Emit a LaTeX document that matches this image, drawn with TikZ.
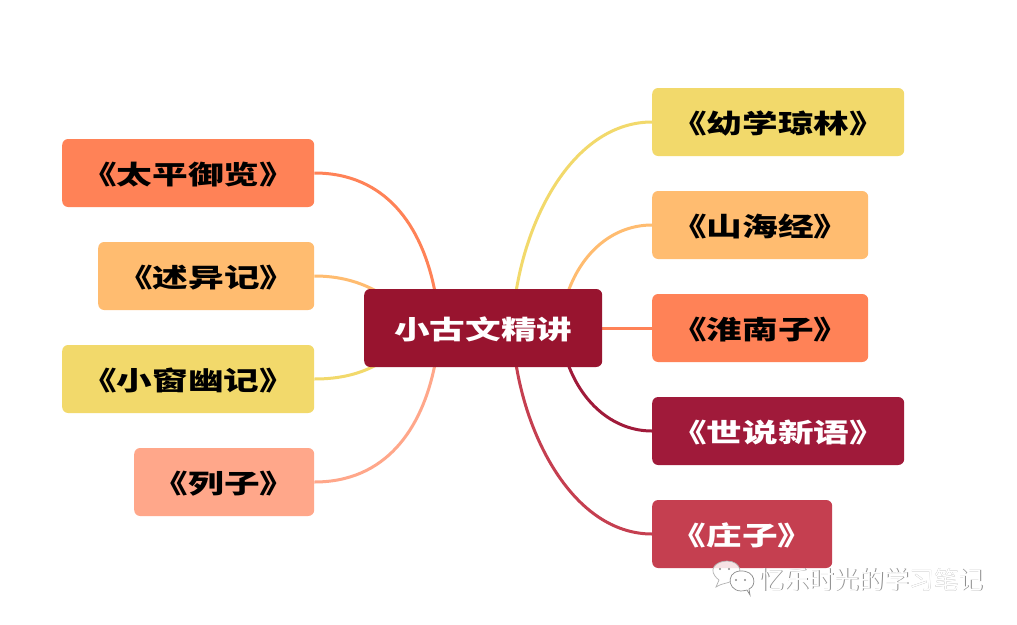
\documentclass[tikz,border=0pt]{standalone}
\usepackage{fontspec}
\usepackage{graphicx}
\usetikzlibrary{backgrounds,calc}
\newfontfamily\cjk{Noto Sans CJK SC}
\definecolor{cOrange}{HTML}{FF8257}
\definecolor{cApricot}{HTML}{FFBC70}
\definecolor{cYellow}{HTML}{F2D96B}
\definecolor{cSalmon}{HTML}{FFA78A}
\definecolor{cMaroon}{HTML}{98142F}
\definecolor{cWine}{HTML}{A01A3A}
\definecolor{cRose}{HTML}{C53F50}
\newcommand{\lab}[1]{\raisebox{-1.5pt}[\height][\depth]{\scalebox{1.32}[0.97]{\fontsize{27}{30}\cjk\bfseries #1}}}
\tikzset{
  x=1pt,y=-1pt,
  topic/.style={rectangle,rounded corners=6pt,inner sep=0pt,minimum height=68pt,anchor=west,text=black},
  link/.style={line width=3pt},
  mark text/.style={inner sep=0pt,anchor=west,font=\fontsize{24.9}{26}\cjk}
}
\begin{document}
\begin{tikzpicture}
\useasboundingbox (0,0) rectangle (1017,624);
% central node
\node[topic,fill=cMaroon,text=white,minimum width=238pt,minimum height=78pt] (c) at (364,328) {\lab{小古文精讲}};
% left nodes
\node[topic,fill=cOrange,minimum width=252pt] (l1) at (62,173) {\lab{《太平御览》}};
\node[topic,fill=cApricot,minimum width=216pt] (l2) at (98,276) {\lab{《述异记》}};
\node[topic,fill=cYellow,minimum width=252pt] (l3) at (62,379) {\lab{《小窗幽记》}};
\node[topic,fill=cSalmon,minimum width=180pt] (l4) at (134,482) {\lab{《列子》}};
% right nodes
\node[topic,fill=cYellow,minimum width=252pt] (r1) at (652,122) {\lab{《幼学琼林》}};
\node[topic,fill=cApricot,minimum width=216pt] (r2) at (652,225) {\lab{《山海经》}};
\node[topic,fill=cOrange,minimum width=216pt] (r3) at (652,328) {\lab{《淮南子》}};
\node[topic,fill=cWine,text=white,minimum width=252pt] (r4) at (652,431) {\lab{《世说新语》}};
\node[topic,fill=cRose,text=white,minimum width=180pt] (r5) at (652,534) {\lab{《庄子》}};
% attachment points on the central node
\coordinate (cl1) at (435,292);
\coordinate (cl2) at (378,292);
\coordinate (cl3) at (378,364);
\coordinate (cl4) at (435,364);
\coordinate (cr1) at (516,292);
\coordinate (cr2) at (568,292);
\coordinate (cr4) at (568,364);
\coordinate (cr5) at (516,364);
\begin{pgfonlayer}{background}
\fill[white] (0,0) rectangle (1017,624);
\draw[link,cOrange] (l1.east) .. controls (385,173) and (422,225) .. (cl1);
\draw[link,cApricot] (l2.east) .. controls (340,276) and (360,282) .. (cl2);
\draw[link,cYellow] (l3.east) .. controls (340,379) and (360,374) .. (cl3);
\draw[link,cSalmon] (l4.east) .. controls (385,482) and (422,430) .. (cl4);
\draw[link,cYellow] (r1.west) .. controls (580,122) and (530,205) .. (cr1);
\draw[link,cApricot] (r2.west) .. controls (615,225) and (583,250) .. (cr2);
\draw[link,cOrange] (c.east) -- (r3.west);
\draw[link,cWine] (r4.west) .. controls (615,431) and (583,405) .. (cr4);
\draw[link,cRose] (r5.west) .. controls (580,534) and (530,450) .. (cr5);
\end{pgfonlayer}
% watermark
\foreach \dx/\dy/\col in {0.8/0.8/black!45,0/0/white}{
  \node[mark text,text=\col] at ($(759.5,579.5)+(\dx,\dy)$) {忆乐时光的学习笔记};
}
\filldraw[draw=black!30,fill=white,fill opacity=0.85,line width=0.7pt] (716,587) -- (719,580) .. controls (706,570) and (716,561) .. (727,561) .. controls (741,561) and (745,575) .. (732,581) .. controls (726,584) and (722,583) .. (716,587) -- cycle;
\filldraw[draw=black!45,fill=white,line width=0.7pt] (750,595) -- (747,590) .. controls (728,596) and (724,572) .. (740,571) .. controls (756,570) and (757,586) .. (749,589) -- cycle;
\fill[black!45] (720,569) circle (1.1) (729,569) circle (1.1) (736,580) circle (1.1) (745,580) circle (1.1);
\end{tikzpicture}
\end{document}
